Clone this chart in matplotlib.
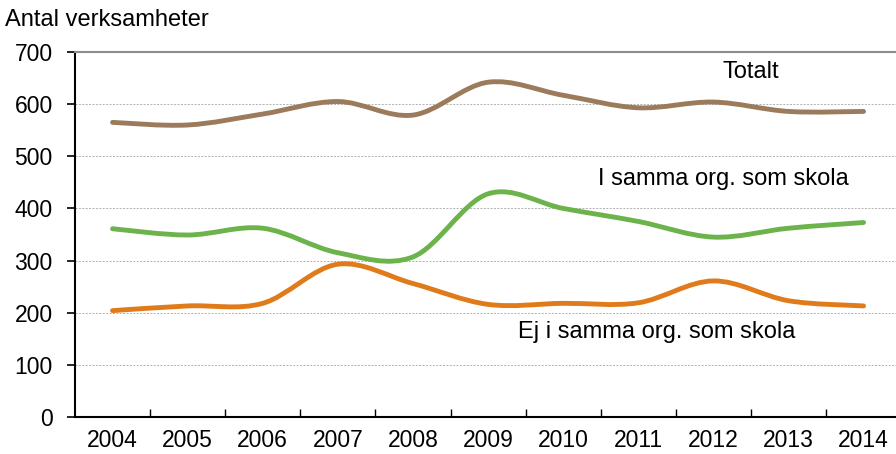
import matplotlib
matplotlib.use("Agg")
import matplotlib.pyplot as plt
from matplotlib.path import Path
from matplotlib.patches import PathPatch

years = ["2004", "2005", "2006", "2007", "2008", "2009",
         "2010", "2011", "2012", "2013", "2014"]
totalt = [565, 560, 581, 605, 579, 642, 617, 593, 604, 586, 586]
i_samma = [361, 349, 362, 315, 307, 428, 400, 375, 345, 362, 373]
ej_samma = [204, 213, 218, 293, 256, 216, 218, 219, 261, 223, 213]

plt.rcParams['font.family'] = ['Liberation Sans', 'DejaVu Sans']


def smooth_path(ys):
    # Excel-style smoothed line: cubic bezier through each point
    xs = list(range(len(ys)))
    pts = list(zip(xs, ys))
    verts = [pts[0]]
    codes = [Path.MOVETO]
    n = len(pts)
    for i in range(n - 1):
        p0 = pts[max(i - 1, 0)]
        p1 = pts[i]
        p2 = pts[i + 1]
        p3 = pts[min(i + 2, n - 1)]
        c1 = (p1[0] + (p2[0] - p0[0]) / 6, p1[1] + (p2[1] - p0[1]) / 6)
        c2 = (p2[0] - (p3[0] - p1[0]) / 6, p2[1] - (p3[1] - p1[1]) / 6)
        verts += [c1, c2, p2]
        codes += [Path.CURVE4] * 3
    return Path(verts, codes)


fig = plt.figure(figsize=(8.96, 4.54), dpi=100)
ax = fig.add_axes([0.0837, 0.0815, 0.922, 0.804])

series = [(totalt, "#9b7b5b"), (i_samma, "#6cb34b"), (ej_samma, "#e07b1c")]
for ys, col in series:
    ax.add_patch(PathPatch(smooth_path(ys), fill=False, edgecolor=col,
                           lw=3.5, capstyle="round", joinstyle="round", zorder=3))

ax.set_xlim(-0.5, len(years) - 0.5)
ax.set_ylim(0, 700)
ax.set_yticks(range(0, 701, 100))
ax.set_xticks(range(len(years)))
ax.set_xticklabels(years)
ax.set_xticks([i + 0.5 for i in range(len(years) - 1)], minor=True)

ax.tick_params(axis="x", which="major", length=0, pad=9, labelsize=16.5)
ax.tick_params(axis="x", which="minor", direction="in", length=6, width=1, color="black")
ax.tick_params(axis="y", direction="out", length=6, width=1.2, labelsize=16.5, pad=10)

ax.grid(axis="y", color="#b0b0b0", linestyle=(0, (2, 1.5)), linewidth=0.7)
ax.set_axisbelow(True)
ax.spines["right"].set_visible(False)
ax.spines["top"].set_color("#8c8c8c")
ax.spines["top"].set_linewidth(1.5)
ax.spines["left"].set_linewidth(1.5)
ax.spines["bottom"].set_linewidth(1.5)

ax.text(8.5, 661, "Totalt", ha="center", va="center", fontsize=17)
ax.text(8.13, 456, "I samma org. som skola", ha="center", va="center", fontsize=17)
ax.text(7.24, 163, "Ej i samma org. som skola", ha="center", va="center", fontsize=17)

fig.text(0.006, 0.955, "Antal verksamheter", ha="left", va="center", fontsize=17)

fig.savefig("out.png", dpi=100)
